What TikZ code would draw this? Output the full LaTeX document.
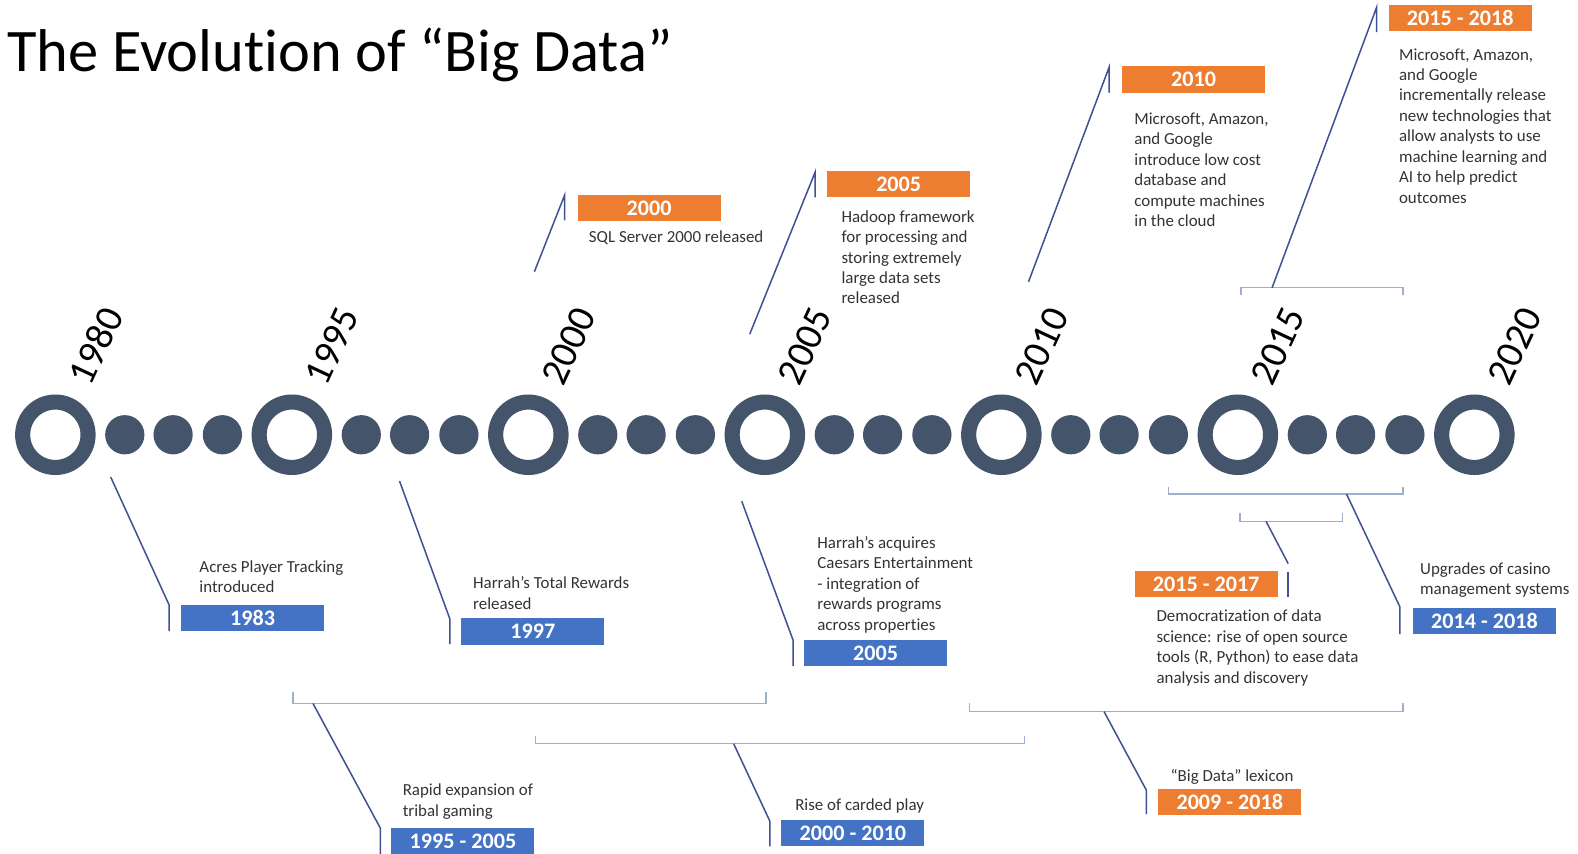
\documentclass[tikz,border=0pt]{standalone}
\usepackage{fontspec}
\setmainfont{Carlito}[Ligatures={NoCommon}]
\definecolor{tl}{HTML}{44546A}
\definecolor{ob}{HTML}{ED7D31}
\definecolor{bl}{HTML}{4472C4}
\definecolor{cn}{HTML}{3F5291}
\definecolor{br}{HTML}{9BB0CC}
\definecolor{tx}{HTML}{333333}
\begin{document}
\begin{tikzpicture}[x=1pt,y=-1pt,
 ring/.style={circle,draw=tl,line width=15pt,minimum size=65pt,inner sep=0pt},
 dotnode/.style={circle,fill=tl,minimum size=39pt,inner sep=0pt},
 yr/.style={rotate=65,font=\fontsize{39}{40}\selectfont,text=black,inner sep=0pt},
 orangebox/.style={rectangle,fill=ob,minimum width=142pt,minimum height=26pt,inner sep=0pt,text=white,font=\fontsize{22}{24}\selectfont\bfseries},
 bluebox/.style={orangebox,fill=bl},
 desc/.style={anchor=north west,align=left,inner sep=0pt,text=tx,font=\fontsize{16.8}{20.3}\selectfont},
 conn/.style={draw=cn,line width=1.5pt},
 brk/.style={draw=br,line width=1.3pt}]
\fill[white] (0,0) rectangle (1568,848);
\useasboundingbox (0,0) rectangle (1568,848);

% title
\node[anchor=base west,inner sep=0pt,font=\fontsize{60}{72}\selectfont] (title) at (7,71) {The Evolution of “Big Data”};

% timeline
\foreach \i/\yy in {0/1980,1/1995,2/2000,3/2005,4/2010,5/2015,6/2020}{
  \node[ring] (r\i) at ({55+235*\i},432) {};
  \node[yr] (y\i) at ({95+235*\i},344) {\yy};
}
\foreach \i in {0,...,5}{
  \node[dotnode] (d\i a) at ({124+235*\i},432) {};
  \node[dotnode] (d\i b) at ({172+235*\i},432) {};
  \node[dotnode] (d\i c) at ({221+235*\i},432) {};
}

% boxes
\node[bluebox] (b1983) at (251,614) {1983};
\node[bluebox] (b1997) at (529.5,627.5) {1997};
\node[bluebox] (b2005) at (870,649) {2005};
\node[bluebox] (b2014) at (1475,617) {2014 - 2018};
\node[bluebox] (b1995) at (460,836) {1995 - 2005};
\node[bluebox] (b2000) at (847.5,828) {2000 - 2010};
\node[orangebox] (o2000) at (645,206.5) {2000};
\node[orangebox] (o2005) at (893,183) {2005};
\node[orangebox] (o2010) at (1186,79) {2010};
\node[orangebox] (o2015) at (1451,18) {2015 - 2018};
\node[orangebox] (o2017) at (1198.5,580.5) {2015 - 2017};
\node[orangebox] (o2009) at (1222,796.5) {2009 - 2018};

% descriptions
\node[desc] (t1983) at (198,557) {Acres Player Tracking\\introduced};
\node[desc] (t1997) at (470,573) {Harrah’s Total Rewards\\released};
\node[desc] (t2005) at (812,533) {Harrah{\char39}s acquires\\Caesars Entertainment\\- integration of\\rewards programs\\across properties};
\node[desc] (tsql) at (585,229) {SQL Server 2000 released};
\node[desc] (thad) at (836,209) {Hadoop framework\\for processing and\\storing extremely\\large data sets\\released};
\node[desc] (t2010) at (1127,112) {Microsoft, Amazon,\\and Google\\introduce low cost\\database and\\compute machines\\in the cloud};
\node[desc] (t2015) at (1390,48) {Microsoft, Amazon,\\and Google\\incrementally release\\new technologies that\\allow analysts to use\\machine learning and\\AI to help predict\\outcomes};
\node[desc] (tdem) at (1149,606) {Democratization of data\\science: rise of open source\\tools (R, Python) to ease data\\analysis and discovery};
\node[desc] (tupg) at (1411,559) {Upgrades of casino\\management systems};
\node[desc] (trap) at (400,779) {Rapid expansion of\\tribal gaming};
\node[desc] (trise) at (790,793) {Rise of carded play};
\node[desc] (tbig) at (1163,764) {“Big Data” lexicon};

% brackets
\coordinate (ba1) at (291,688); \coordinate (ba2) at (291,699); \coordinate (ba3) at (761,699); \coordinate (ba4) at (761,688);
\draw[brk] (ba1) -- (ba2) -- (ba3) -- (ba4);
\coordinate (bb1) at (532,731); \coordinate (bb2) at (532,739); \coordinate (bb3) at (1018,739); \coordinate (bb4) at (1018,731);
\draw[brk] (bb1) -- (bb2) -- (bb3) -- (bb4);
\coordinate (bc1) at (963,699); \coordinate (bc2) at (963,707); \coordinate (bc3) at (1394,707); \coordinate (bc4) at (1394,699);
\draw[brk] (bc1) -- (bc2) -- (bc3) -- (bc4);
\coordinate (bd1) at (1161,484); \coordinate (bd2) at (1161,491); \coordinate (bd3) at (1394,491); \coordinate (bd4) at (1394,484);
\draw[brk] (bd1) -- (bd2) -- (bd3) -- (bd4);
\coordinate (be1) at (1232,510); \coordinate (be2) at (1232,518); \coordinate (be3) at (1334,518); \coordinate (be4) at (1334,510);
\draw[brk] (be1) -- (be2) -- (be3) -- (be4);
\coordinate (bf1) at (1233,293); \coordinate (bf2) at (1233,286); \coordinate (bf3) at (1394,286); \coordinate (bf4) at (1394,293);
\draw[brk] (bf1) -- (bf2) -- (bf3) -- (bf4);

% connectors
\coordinate (k1a) at (110,474); \coordinate (k1b) at (168,601); \coordinate (k1c) at (168,627);
\draw[conn] (k1a) -- (k1b) -- (k1c);
\coordinate (k2a) at (397,478); \coordinate (k2b) at (447,615); \coordinate (k2c) at (447,640);
\draw[conn] (k2a) -- (k2b) -- (k2c);
\coordinate (k3a) at (737,498); \coordinate (k3b) at (788,636); \coordinate (k3c) at (788,662);
\draw[conn] (k3a) -- (k3b) -- (k3c);
\coordinate (k4a) at (531,270); \coordinate (k4b) at (561,194); \coordinate (k4c) at (561,219);
\draw[conn] (k4a) -- (k4b) -- (k4c);
\coordinate (k5a) at (745,332); \coordinate (k5b) at (810,171); \coordinate (k5c) at (810,196);
\draw[conn] (k5a) -- (k5b) -- (k5c);
\coordinate (k6a) at (1022,280); \coordinate (k6b) at (1102,67); \coordinate (k6c) at (1102,92);
\draw[conn] (k6a) -- (k6b) -- (k6c);
\coordinate (k7a) at (1264,286); \coordinate (k7b) at (1368,7); \coordinate (k7c) at (1368,32);
\draw[conn] (k7a) -- (k7b) -- (k7c);
\coordinate (k8a) at (1338,491); \coordinate (k8b) at (1391,603); \coordinate (k8c) at (1391,630);
\draw[conn] (k8a) -- (k8b) -- (k8c);
\coordinate (k9a) at (1258,518); \coordinate (k9b) at (1280,560); \coordinate (k9c) at (1280,568); \coordinate (k9d) at (1280,593);
\draw[conn] (k9a) -- (k9b);
\draw[conn] (k9c) -- (k9d);
\coordinate (k10a) at (311,699); \coordinate (k10b) at (378,823); \coordinate (k10c) at (378,850);
\draw[conn] (k10a) -- (k10b) -- (k10c);
\coordinate (k11a) at (729,739); \coordinate (k11b) at (765,816); \coordinate (k11c) at (765,841);
\draw[conn] (k11a) -- (k11b) -- (k11c);
\coordinate (k12a) at (1097,707); \coordinate (k12b) at (1139,785); \coordinate (k12c) at (1139,809);
\draw[conn] (k12a) -- (k12b) -- (k12c);
\end{tikzpicture}
\end{document}
